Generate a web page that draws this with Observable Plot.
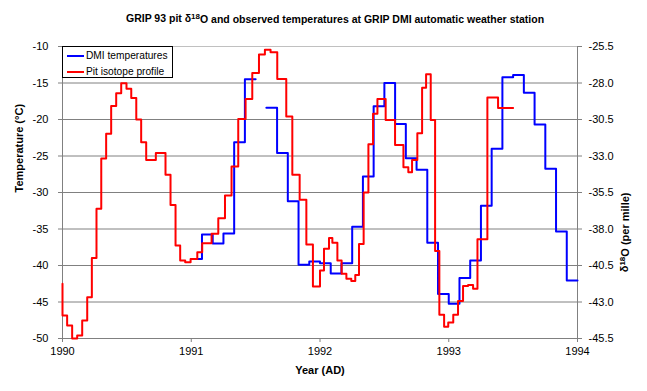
<!DOCTYPE html>
<html><head><meta charset="utf-8">
<script src="https://cdn.jsdelivr.net/npm/d3@7"></script>
<script src="https://cdn.jsdelivr.net/npm/@observablehq/plot@0.6"></script>
<style>
body{margin:0;background:#fff;}
#chart{position:relative;width:647px;height:391px;font-family:"Liberation Sans",Arial,sans-serif;}
#legend{position:absolute;left:62px;top:46px;width:111px;height:32px;border:1px solid #000;background:#fff;box-sizing:border-box;font-size:10.2px;color:#000;}
.row{position:absolute;left:0;height:14px;width:100%;}
.sw{position:absolute;left:4px;width:17px;top:6px;height:2px;}
.lab{position:absolute;left:23px;top:0;line-height:14px;white-space:nowrap;}
</style></head>
<body>
<div id="chart">
  <div id="legend">
    <div class="row" style="top:2px"><div class="sw" style="background:#0000ff"></div><div class="lab">DMI temperatures</div></div>
    <div class="row" style="top:18px"><div class="sw" style="background:#ff0000"></div><div class="lab">Pit isotope profile</div></div>
  </div>
</div>
<script>
// Axis ticks
const yTicks = [-10, -15, -20, -25, -30, -35, -40, -45, -50];
const xTicks = [1990, 1991, 1992, 1993, 1994];

// DMI monthly temperatures (°C), Jan..Dec
const dmi1991 = [-39.1, -35.75, -37.0, -35.6, -23.1, -14.5, null, -18.4, -24.6, -31.2, -39.9, -39.45];
const dmi1992 = [-39.7, -41.1, -39.7, -34.7, -27.8, -18.2, -15.0, -20.6, -25.3, -26.9, -36.9, -43.9];
const dmi1993 = [-45.25, -41.7, -39.3, -31.8, -24.0, -14.2, -13.9, -16.35, -20.7, -26.75, -35.35, -42.05];

// Pit isotope profile: sample start (decimal year) and δ18O (per mille)
const pitYears = [1990.000, 1990.000, 1990.036, 1990.075, 1990.114, 1990.153, 1990.192, 1990.228, 1990.264, 1990.301,
  1990.339, 1990.378, 1990.417, 1990.456, 1990.497, 1990.534, 1990.573, 1990.611, 1990.650, 1990.725,
  1990.800, 1990.839, 1990.878, 1990.914, 1990.953, 1990.995, 1991.047, 1991.085, 1991.158, 1991.210,
  1991.262, 1991.313, 1991.365, 1991.422, 1991.474, 1991.526, 1991.572, 1991.616, 1991.668, 1991.738,
  1991.785, 1991.842, 1991.894, 1991.945, 1992.000, 1992.031, 1992.070, 1992.096, 1992.135, 1992.168,
  1992.205, 1992.243, 1992.274, 1992.303, 1992.339, 1992.376, 1992.412, 1992.446, 1992.510, 1992.583,
  1992.648, 1992.686, 1992.715, 1992.756, 1992.793, 1992.824, 1992.860, 1992.894, 1992.927, 1992.964,
  1992.996, 1993.035, 1993.072, 1993.111, 1993.150, 1993.189, 1993.223, 1993.300, 1993.383];
const pitEnd = 1993.500;
const pitDelta = [-41.75, -43.93, -44.61, -45.5, -45.3, -44.27, -42.67, -39.98, -36.62, -33.17,
  -31.48, -29.57, -28.7, -28.01, -28.4, -29.02, -30.5, -32.05, -33.27, -32.79,
  -34.29, -36.35, -39.13, -40.16, -40.27, -40.05, -39.59, -38.97, -38.33, -37.26,
  -35.71, -33.72, -30.46, -29.09, -27.31, -26.05, -25.73, -25.89, -27.72, -30.3,
  -34.29, -36.0, -39.06, -41.94, -40.85, -39.36, -38.61, -38.95, -40.16, -41.07,
  -41.41, -41.56, -41.15, -39.02, -35.5, -32.2, -30.11, -29.09, -30.53, -32.24,
  -33.77, -34.11, -33.27, -31.45, -28.33, -27.4, -30.53, -39.5, -43.87, -44.7,
  -44.4, -43.88, -42.94, -41.9, -41.83, -42.1, -38.7, -29.0, -29.72];

// secondary axis mapping: δ = T/2 - 20.5
const toT = d => (d + 20.5) * 2;
const fromT = t => t / 2 - 20.5;

const dmi = [...dmi1991, ...dmi1992, ...dmi1993];
const bluePts = [];
dmi.forEach((v, i) => {
  const t0 = 1991 + i / 12;
  bluePts.push({x: t0, y: v}, {x: t0 + 1 / 12, y: v});
});
const redPts = [];
pitDelta.forEach((d, i) => {
  const t0 = pitYears[i];
  const t1 = i + 1 < pitYears.length ? pitYears[i + 1] : pitEnd;
  redPts.push({x: t0, y: toT(d)}, {x: t1, y: toT(d)});
});

const font = '"Liberation Sans", Arial, sans-serif';
const plot = Plot.plot({
  width: 647, height: 391,
  marginLeft: 62, marginRight: 70, marginTop: 46, marginBottom: 53,
  x: {domain: [1990, 1994]},
  y: {domain: [-50, -10]},
  style: {fontFamily: font, fontSize: "11px", color: "#000", background: "#fff", overflow: "visible"},
  marks: [
    Plot.ruleY(yTicks.filter(d => d > -50 && d < -10), {stroke: "#808080", strokeWidth: 1}),
    Plot.ruleY([-10], {stroke: "#c0c0c0"}),
    Plot.ruleX([1990, 1994], {stroke: "#808080"}),
    Plot.ruleY([-50], {stroke: "#808080"}),
    Plot.axisY(yTicks, {anchor: "left", tickSize: 4, tickPadding: 10, stroke: "#808080", fill: "#000", tickFormat: d => String(d), label: null}),
    Plot.axisY(yTicks, {anchor: "right", tickSize: 4, tickPadding: 7, stroke: "#808080", fill: "#000", tickFormat: d => fromT(d).toFixed(1), label: null}),
    Plot.axisX(xTicks, {anchor: "bottom", tickSize: 4, tickPadding: 5, stroke: "#808080", fill: "#000", tickFormat: d => String(d), label: null}),
    Plot.line(bluePts, {x: "x", y: "y", stroke: "#0000ff", strokeWidth: 2}),
    Plot.line(redPts, {x: "x", y: "y", stroke: "#ff0000", strokeWidth: 2}),
    Plot.text(["Temperature (°C)"], {text: d => d, frameAnchor: "left", rotate: -90, dx: -43, fontWeight: "bold", fontSize: 11}),
    Plot.text(["δ18O (per mille)"], {text: d => d, frameAnchor: "right", rotate: -90, dx: 47, fontWeight: "bold", fontSize: 11}),
    Plot.text(["Year (AD)"], {text: d => d, frameAnchor: "bottom", dy: 35, fontWeight: "bold", fontSize: 11}),
    Plot.text(["GRIP 93 pit δ18O and observed temperatures at GRIP DMI automatic weather station"], {text: d => d, frameAnchor: "top", dy: -32, dx: 15, fontWeight: "bold", fontSize: 10.5})
  ]
});

// superscript the 18 in δ18O
d3.select(plot).selectAll("text").each(function() {
  const s = this.textContent;
  if (this.childElementCount === 0 && s.includes("δ18O")) {
    const [a, b] = s.split("δ18O");
    const t = d3.select(this);
    t.text(null);
    t.append("tspan").text(a + "δ");
    t.append("tspan").attr("dy", "-0.4em").attr("font-size", "8px").text("18");
    t.append("tspan").attr("dy", "0.4em").text("O" + b);
  }
});

const chart = document.getElementById("chart");
plot.style.position = "absolute";
plot.style.left = "0";
plot.style.top = "0";
chart.insertBefore(plot, chart.firstChild);
</script>
</body></html>
